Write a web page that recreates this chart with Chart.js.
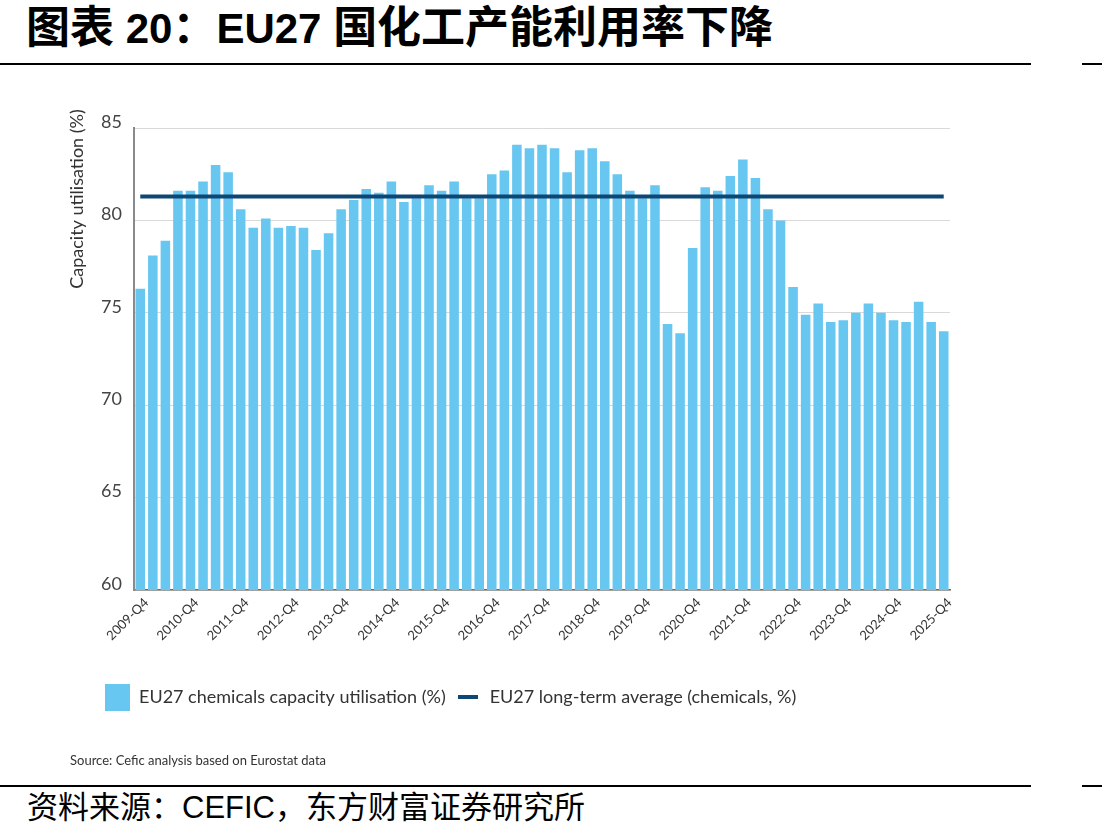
<!DOCTYPE html>
<html>
<head>
<meta charset="utf-8">
<script src="https://cdn.jsdelivr.net/npm/chart.js@4.4.1/dist/chart.umd.min.js"></script>
<style>
  html, body { margin: 0; padding: 0; background: #ffffff; }
  #page { position: relative; width: 1102px; height: 839px; overflow: hidden; background: #fff; }
  #title { position: absolute; left: 26px; top: 3px; font-family: "Liberation Sans", "Noto Sans CJK SC", sans-serif; font-weight: 700; font-size: 42px; line-height: 50px; color: #000; white-space: nowrap; }
  #title .cjk { font-size: 44px; }
  .rule { position: absolute; height: 2px; background: #000; }
  #chartBox { position: absolute; left: 0; top: 70px; width: 1102px; height: 700px; }
  #srcNote { position: absolute; left: 70px; top: 752px; font-family: Lato, "Open Sans", sans-serif; font-size: 13px; color: #333; white-space: nowrap; }
  #foot { position: absolute; left: 27px; top: 789px; font-family: "Liberation Sans", "Noto Sans CJK SC", sans-serif; font-size: 31px; line-height: 38px; color: #000; white-space: nowrap; }
</style>
</head>
<body>
<div id="page">
  <div id="title"><span class="cjk">图表</span> 20<span class="cjk">：</span>EU27 <span class="cjk">国化工产能利用率下降</span></div>
  <div class="rule" style="left:0;top:63px;width:1031px;"></div>
  <div class="rule" style="left:1082px;top:63px;width:20px;"></div>
  <div id="chartBox"><canvas id="c" width="1102" height="700"></canvas></div>
  <div id="srcNote">Source: Cefic analysis based on Eurostat data</div>
  <div class="rule" style="left:0;top:785px;width:1031px;"></div>
  <div class="rule" style="left:1082px;top:785px;width:20px;"></div>
  <div id="foot">资料来源：CEFIC，东方财富证券研究所</div>
</div>
<script>
// ---- data ----
const quarters = [
  '2009-Q4',
  '2010-Q1','2010-Q2','2010-Q3','2010-Q4',
  '2011-Q1','2011-Q2','2011-Q3','2011-Q4',
  '2012-Q1','2012-Q2','2012-Q3','2012-Q4',
  '2013-Q1','2013-Q2','2013-Q3','2013-Q4',
  '2014-Q1','2014-Q2','2014-Q3','2014-Q4',
  '2015-Q1','2015-Q2','2015-Q3','2015-Q4',
  '2016-Q1','2016-Q2','2016-Q3','2016-Q4',
  '2017-Q1','2017-Q2','2017-Q3','2017-Q4',
  '2018-Q1','2018-Q2','2018-Q3','2018-Q4',
  '2019-Q1','2019-Q2','2019-Q3','2019-Q4',
  '2020-Q1','2020-Q2','2020-Q3','2020-Q4',
  '2021-Q1','2021-Q2','2021-Q3','2021-Q4',
  '2022-Q1','2022-Q2','2022-Q3','2022-Q4',
  '2023-Q1','2023-Q2','2023-Q3','2023-Q4',
  '2024-Q1','2024-Q2','2024-Q3','2024-Q4',
  '2025-Q1','2025-Q2','2025-Q3','2025-Q4'
];
const capacityUtilisation = [
  76.3,
  78.1, 78.9, 81.6, 81.6,
  82.1, 83.0, 82.6, 80.6,
  79.6, 80.1, 79.6, 79.7,
  79.6, 78.4, 79.3, 80.6,
  81.1, 81.7, 81.5, 82.1,
  81.0, 81.2, 81.9, 81.6,
  82.1, 81.2, 81.2, 82.5,
  82.7, 84.1, 83.9, 84.1,
  83.9, 82.6, 83.8, 83.9,
  83.2, 82.5, 81.6, 81.2,
  81.9, 74.4, 73.9, 78.5,
  81.8, 81.6, 82.4, 83.3,
  82.3, 80.6, 80.0, 76.4,
  74.9, 75.5, 74.5, 74.6,
  75.0, 75.5, 75.0, 74.6,
  74.5, 75.6, 74.5, 74.0
];
const longTermAverage = 81.3;
const averageSpan = ['2009-Q4', '2025-Q4'];
const xTickLabels = ['2009-Q4','2010-Q4','2011-Q4','2012-Q4','2013-Q4','2014-Q4','2015-Q4','2016-Q4','2017-Q4','2018-Q4','2019-Q4','2020-Q4','2021-Q4','2022-Q4','2023-Q4','2024-Q4','2025-Q4'];
const yTicks = [60, 65, 70, 75, 80, 85];
const seriesNames = ['EU27 chemicals capacity utilisation (%)', 'EU27 long-term average (chemicals, %)'];
const yAxisTitle = 'Capacity utilisation (%)';

// ---- styles ----
const barColor = '#68c7f0';
const lineColor = '#0c4775';
const FONT = 'Lato, "Open Sans", sans-serif';

function swatch(w, h, color) {
  const cv = document.createElement('canvas');
  cv.width = w; cv.height = h;
  const cx = cv.getContext('2d');
  cx.fillStyle = color; cx.fillRect(0, 0, w, h);
  return cv;
}
const barSwatch = swatch(25, 27, barColor);
const lineSwatch = swatch(20, 4, lineColor);

const yTitlePlugin = {
  id: 'yTitle',
  afterDraw(chart) {
    const ctx = chart.ctx;
    ctx.save();
    ctx.translate(77, 129);
    ctx.rotate(-Math.PI / 2);
    ctx.font = '18px ' + FONT;
    ctx.fillStyle = '#333';
    ctx.textAlign = 'center';
    ctx.textBaseline = 'middle';
    ctx.fillText(yAxisTitle, 0, 0);
    ctx.restore();
  }
};

const legendShift = {
  id: 'legendShift',
  afterLayout(chart) {
    const lg = chart.legend;
    const dx = 105 - (lg.left + 10);
    lg.left += dx; lg.right += dx;
  }
};

new Chart(document.getElementById('c'), {
  data: {
    labels: quarters,
    datasets: [
      {
        type: 'bar',
        label: seriesNames[0],
        data: capacityUtilisation,
        backgroundColor: barColor,
        barPercentage: 0.76,
        categoryPercentage: 1.0,
        pointStyle: barSwatch,
        order: 2
      },
      {
        type: 'line',
        label: seriesNames[1],
        data: averageSpan.map(q => ({ x: q, y: longTermAverage })),
        borderColor: lineColor,
        backgroundColor: lineColor,
        borderWidth: 4,
        pointRadius: 0,
        pointStyle: lineSwatch,
        fill: false,
        order: 1
      }
    ]
  },
  options: {
    responsive: false,
    animation: false,
    layout: { padding: { top: 58, left: 0, right: 152, bottom: 54 } },
    plugins: {
      tooltip: { enabled: false },
      legend: {
        position: 'bottom',
        align: 'start',
        labels: {
          usePointStyle: true,
          pointStyleWidth: 25,
          padding: 10,
          color: '#333',
          font: { family: FONT, size: 18 },
          sort: (a, b) => a.datasetIndex - b.datasetIndex
        }
      }
    },
    scales: {
      x: {
        type: 'category',
        offset: true,
        grid: { display: false, drawTicks: false },
        border: { display: true, color: '#6b6b6b', width: 1.5 },
        ticks: {
          autoSkip: false,
          minRotation: 45,
          maxRotation: 45,
          padding: 5,
          labelOffset: 6,
          color: '#333',
          font: { family: FONT, size: 13 },
          callback: function (val) {
            const lab = this.getLabelForValue(val);
            return xTickLabels.includes(lab) ? lab : '';
          }
        },
        afterFit(scale) { scale.height = 88; }
      },
      y: {
        min: 60,
        max: 85,
        afterBuildTicks(scale) { scale.ticks = yTicks.map(v => ({ value: v })); },
        grid: { color: '#d9d9d9', lineWidth: 1, drawTicks: false },
        border: { display: true, color: '#8a8a8a', width: 2 },
        ticks: {
          padding: 12,
          labelOffset: -6,
          color: '#444',
          font: { family: FONT, size: 18 }
        },
        afterFit(scale) { scale.width = 134; }
      }
    }
  },
  plugins: [yTitlePlugin, legendShift]
});
</script>
</body>
</html>
